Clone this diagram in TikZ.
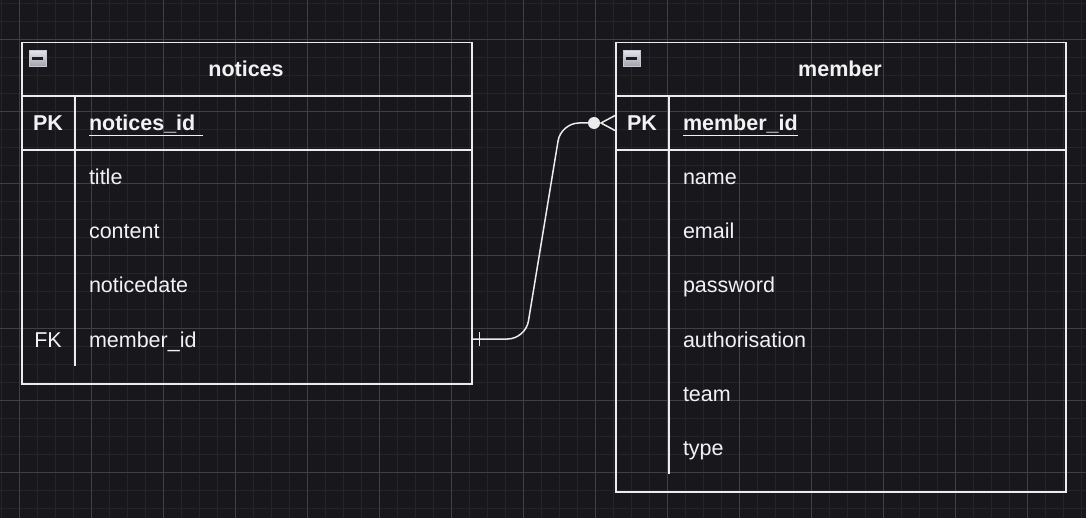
\documentclass[tikz,border=0pt]{standalone}
\usepackage{fontspec}
\setmainfont{Liberation Sans}
\usepackage{xcolor}
\usepackage{tikz}
\usetikzlibrary{positioning}
\definecolor{bgcol}{HTML}{18171C}
\definecolor{gridminor}{HTML}{25242A}
\definecolor{gridmajor}{HTML}{403F45}
\definecolor{linecol}{HTML}{ECECEC}
\definecolor{txtcol}{HTML}{F2F2F2}
\definecolor{icontop}{HTML}{E4E4EA}
\definecolor{iconbot}{HTML}{A2A2AC}
\definecolor{iconrim}{HTML}{C8C8D0}
\definecolor{icondark}{HTML}{1C1C20}
\newcommand{\erfont}{\fontsize{21.5}{25}\selectfont}

\begin{document}
\begin{tikzpicture}[
    x=1pt, y=-1pt,
    every node/.style={text=txtcol, font=\erfont},
    tbl/.style={draw=linecol, line width=1.5pt, minimum width=450, anchor=north west},
    hdr/.style={minimum width=450, minimum height=54, outer sep=0pt, anchor=north west, font=\erfont\bfseries, text height=20, text depth=4},
    row/.style={text width=368, inner xsep=14, minimum height=54, outer sep=0pt, align=left, text height=20, text depth=4},
    keycell/.style={minimum width=54, minimum height=54, inner sep=0pt, outer sep=0pt, text height=20, text depth=4},
    pk/.style={font=\erfont\bfseries},
    icon/.style={anchor=north west, minimum width=17, minimum height=16, inner sep=0pt, draw=iconrim, line width=0.8pt, top color=icontop, bottom color=iconbot},
    sep/.style={draw=linecol, line width=1.5pt},
    link/.style={draw=linecol, line width=1.5pt}
]
% background and grid
\fill[bgcol] (0,0) rectangle (1086,518);
\useasboundingbox (0,0) rectangle (1086,518);
\foreach \x in {1,19,...,1081} \draw[gridminor, line width=1pt] (\x,0) -- (\x,518);
\foreach \y in {4,22,...,508} \draw[gridminor, line width=1pt] (0,\y) -- (1086,\y);
\foreach \x in {19,91,...,1027} \draw[gridmajor, line width=1pt] (\x,0) -- (\x,518);
\foreach \y in {40,112,...,472} \draw[gridmajor, line width=1pt] (0,\y) -- (1086,\y);

% notices table
\node[tbl, minimum height=341] (notices) at (21,42) {};
\node[hdr] (nhead) at (21,42) {notices};
\node[icon] (nicon) at ([shift={(8,8)}]notices.north west) {\color{icondark}\rule{11pt}{2.5pt}};
\node[row, anchor=north west, pk] (npk) at (75,96) {\underline{notices\_id\ }};
\node[row, below=0pt of npk] (ntitle) {title};
\node[row, below=0pt of ntitle] (ncontent) {content};
\node[row, below=0pt of ncontent] (ndate) {noticedate};
\node[row, below=0pt of ndate] (nfk) {member\_id};
\node[keycell, pk, left=0pt of npk] (npkkey) {PK};
\node[keycell, left=0pt of nfk] (nfkkey) {FK};
\draw[sep] (nhead.south west) -- (nhead.south east);
\draw[sep] (npk.south -| notices.west) -- (npk.south east);
\draw[sep] (npk.north west) -- (nfk.south west);

% member table
\node[tbl, minimum height=449] (member) at (615,42) {};
\node[hdr] (mhead) at (615,42) {member};
\node[icon] (micon) at ([shift={(8,8)}]member.north west) {\color{icondark}\rule{11pt}{2.5pt}};
\node[row, anchor=north west, pk] (mpk) at (669,96) {\underline{member\_id}};
\node[row, below=0pt of mpk] (mname) {name};
\node[row, below=0pt of mname] (memail) {email};
\node[row, below=0pt of memail] (mpw) {password};
\node[row, below=0pt of mpw] (mauth) {authorisation};
\node[row, below=0pt of mauth] (mteam) {team};
\node[row, below=0pt of mteam] (mtype) {type};
\node[keycell, pk, left=0pt of mpk] (mpkkey) {PK};
\draw[sep] (mhead.south west) -- (mhead.south east);
\draw[sep] (mpk.south -| member.west) -- (mpk.south east);
\draw[sep] (mpk.north west) -- (mtype.south west);

% relation
\coordinate (fkend) at (notices.east |- nfk);
\coordinate (pkend) at (member.west |- mpk);
\draw[link, rounded corners=18] (fkend) -- ++(53,0) -- ([xshift=-54]pkend) -- ([xshift=-21]pkend);
\draw[link] ([shift={(7,-7)}]fkend) -- ([shift={(7,7)}]fkend);
\fill[linecol] ([xshift=-21]pkend) circle (6pt);
\draw[link] ([yshift=7.5]pkend) -- ([xshift=-14]pkend) -- ([yshift=-7.5]pkend);
\end{tikzpicture}
\end{document}
